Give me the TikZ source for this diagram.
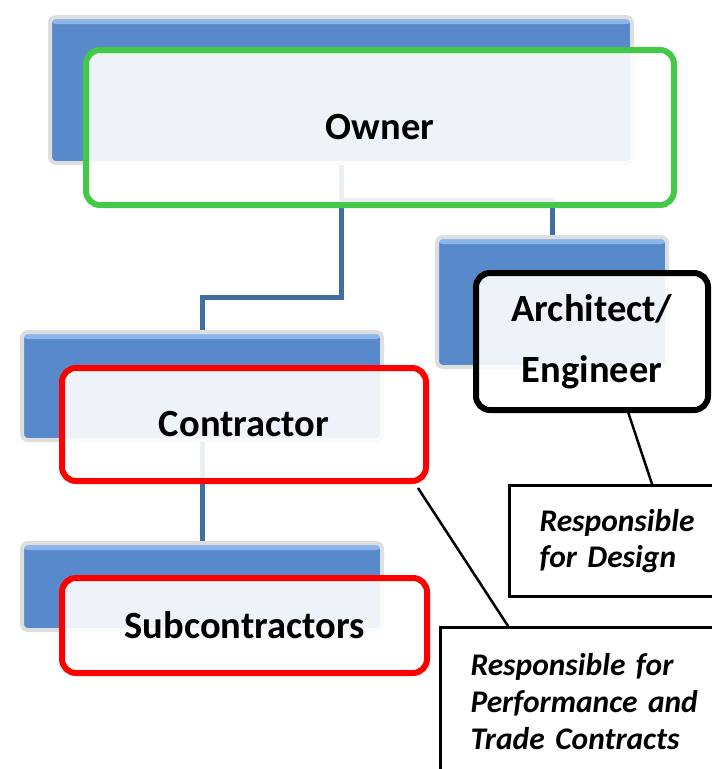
\documentclass[tikz,border=0pt]{standalone}
\usepackage{fontspec}
\setmainfont{Carlito}
\usetikzlibrary{calc}
\definecolor{boxblue}{RGB}{88,138,203}
\definecolor{boxhi}{RGB}{140,182,234}
\definecolor{linkblue}{RGB}{66,110,160}
\definecolor{ownergreen}{RGB}{68,200,72}
\begin{document}
\begin{tikzpicture}[x=1pt,y=1pt,
    bgbox/.style={rounded corners=6,fill=boxblue,draw=black!13,line width=4,
      path picture={\fill[boxhi] (path picture bounding box.north west) rectangle ([yshift=-7]path picture bounding box.north east);}},
    front/.style={rounded corners=14,line width=6,fill=white,fill opacity=0.9,text opacity=1,
      font=\fontsize{38.5}{46}\selectfont\bfseries},
    link/.style={draw=linkblue,line width=5},
    note/.style={draw,line width=3,anchor=north west,align=left,inner xsep=30,inner ysep=24,
      font=\fontsize{31.5}{36}\selectfont\bfseries\itshape}]
            \useasboundingbox (0,0) rectangle (712,-769);
            \clip (0,0) rectangle (712,-769);
            % back boxes
            \node [bgbox,minimum width=582,minimum height=146] (ownerbg) at (341,-90) {};
            \node [bgbox,minimum width=230,minimum height=130] (archbg) at (552,-302) {};
            \node [bgbox,minimum width=360,minimum height=108] (contrbg) at (202,-386) {};
            \node [bgbox,minimum width=360,minimum height=87] (subbg) at (202,-586.5) {};
            % tree lines
            \draw [link](ownerbg.south) -- ++(0,-132) -| (contrbg.north);
            \draw [link](ownerbg.south) -- ++(0,-35) -| (archbg.north);
            \draw [link](contrbg.south) -- (subbg.north);
            % front boxes
            \node [front,draw=ownergreen,minimum width=588,minimum height=155] (owner) at (380,-127.5) {Owner};
            \node [front,draw=black,minimum width=232,minimum height=137,align=center,
              font=\fontsize{38.5}{61}\selectfont\bfseries] (arch) at (592,-341.5) {Architect/\\Engineer};
            \node [front,draw=red,minimum width=364,minimum height=113] (contr) at (244,-424.5) {Contractor};
            \node [front,draw=red,minimum width=365,minimum height=95] (sub) at (244.5,-625.5) {Subcontractors};
            % notes
            \node [note,text width=200] (design) at (508,-484) {Responsible\\for Design};
            \node [note,inner ysep=26,text width=280,font=\fontsize{31.5}{37}\selectfont\bfseries\itshape] (perf) at (439,-626) {Responsible for\\Performance and\\Trade Contracts};
            \draw [line width=2.5](arch.-63) -- ($(design.north west)+(144,0)$);
            \draw [line width=2.5]($(contr.south east)+(-11,-4)$) -- ($(perf.north west)+(69,0)$);
        \end{tikzpicture}
\end{document}
